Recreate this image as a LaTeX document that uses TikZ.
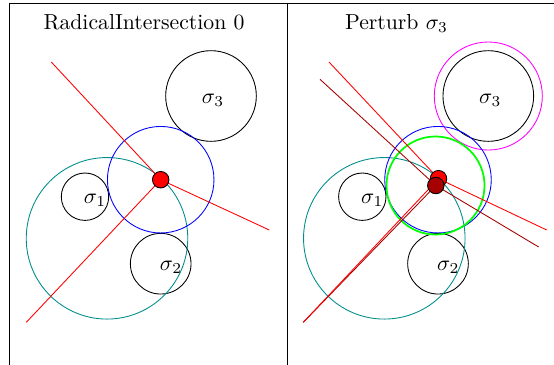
\documentclass[tikz,border=0pt]{standalone}
\begin{document}
\begin{tikzpicture}[x=0.46pt,y=-0.46pt,
  ring/.style={circle,draw,inner sep=0pt,outer sep=0pt},
  dot/.style={circle,draw=black,inner sep=0pt,outer sep=0pt,minimum size=7.6pt},
  rline/.style={red,line width=0.4pt},
  dline/.style={draxred,line width=0.4pt},
  lab/.style={inner sep=0pt}]
\colorlet{draxred}{red!65!black}
\definecolor{pmag}{rgb}{1,0,1}
\definecolor{pteal}{rgb}{0,0.55,0.55}
\useasboundingbox (0,0) rectangle (554,364);
\clip (0,0) rectangle (554,364);
% frames
\draw (9,3.3) rectangle (287,420);
\draw (287,3.3) rectangle (620,420);
% ---------- left panel ----------
\node[anchor=base] (t1) at (144,29.3) {RadicalIntersection 0};
\node[ring,minimum size=41.7pt] (s3) at (211,96) {};
\node[ring,minimum size=21.8pt] (s1) at (85,196.7) {};
\node[ring,minimum size=27.9pt] (s2) at (160.7,263.7) {};
\node[ring,pteal,minimum size=74.3pt] (tc) at (107,238.3) {};
\node[ring,blue,minimum size=49pt] (bc) at (160.7,179.7) {};
\node[lab] (l3) at (213,100) {$\sigma_3$};
\node[lab] (l1) at (95,200) {$\sigma_1$};
\node[lab] (l2) at (171,267) {$\sigma_2$};
\coordinate (a1) at (51.3,62);
\coordinate (a2) at (269.3,230);
\coordinate (a3) at (26.3,322.3);
\coordinate (p0) at (160.7,179.7);
\draw[rline] (a1) -- (p0) (a2) -- (p0) (a3) -- (p0);
\node[dot,fill=red] (p) at (p0) {};
% ---------- right panel ----------
\node[anchor=base] (t2) at (396.5,29.3) {Perturb $\sigma_3$};
\node[ring,minimum size=41.7pt] (r3) at (488.3,96) {};
\node[ring,pmag,minimum size=49.7pt] (mc) at (488.3,96) {};
\node[ring,minimum size=21.8pt] (r1) at (362.3,196.7) {};
\node[ring,minimum size=27.9pt] (r2) at (438,263.7) {};
\node[ring,pteal,minimum size=74.3pt] (rtc) at (384.3,238.3) {};
\node[ring,blue,minimum size=49pt] (rbc) at (438,179.7) {};
\node[ring,green,line width=0.8pt,minimum size=45.1pt] (gc) at (435.5,185.5) {};
\node[lab] (m3) at (490.3,100) {$\sigma_3$};
\node[lab] (m1) at (372.3,200) {$\sigma_1$};
\node[lab] (m2) at (448.3,267) {$\sigma_2$};
\coordinate (b1) at (329,62);
\coordinate (b2) at (546.7,230);
\coordinate (b3) at (303.3,322.3);
\coordinate (c1) at (320,79.3);
\coordinate (c2) at (538.7,247);
\coordinate (q0) at (438.5,178.7);
\coordinate (d0) at (435.8,185.5);
\draw[dline] (c1) -- (d0) (c2) -- (d0) (b3) -- (d0);
\draw[rline] (b1) -- (q0) (b2) -- (q0) (b3) -- (q0);
\node[dot,fill=red] (q) at (q0) {};
\node[dot,fill=draxred] (d) at (d0) {};
\end{tikzpicture}
\end{document}
